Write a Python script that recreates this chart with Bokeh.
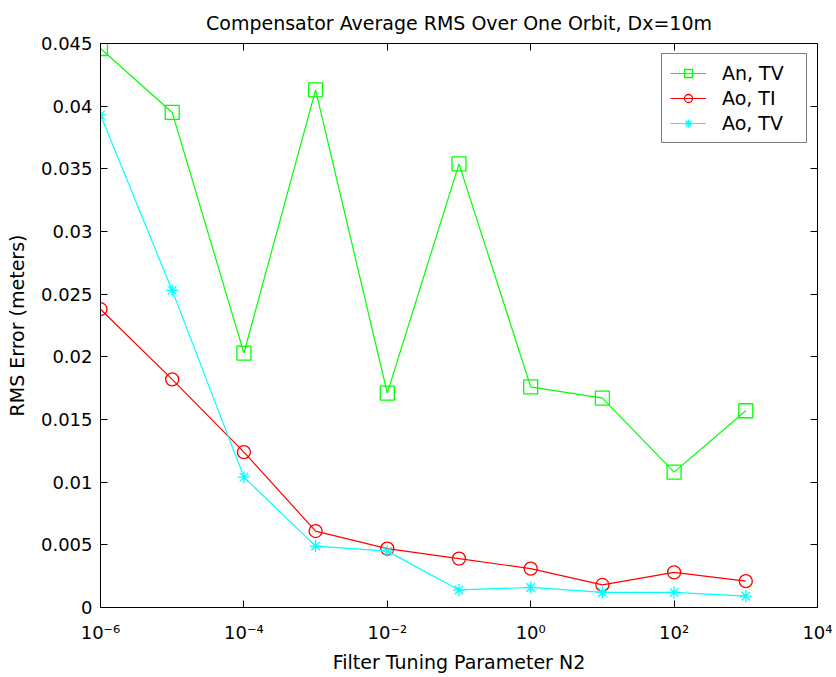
from bokeh.plotting import figure
from bokeh.models import (LinearAxis, LogAxis, FixedTicker, Legend, LegendItem, Range1d)
from bokeh.embed import file_html
from bokeh.resources import INLINE

N2 = [1e-6, 1e-5, 1e-4, 1e-3, 1e-2, 1e-1, 1e0, 1e1, 1e2, 1e3]
an_tv = [0.0446, 0.0395, 0.0203, 0.0413, 0.0171, 0.0354, 0.0176, 0.0167, 0.0108, 0.0157]
ao_ti = [0.0238, 0.0182, 0.0124, 0.0061, 0.0047, 0.0039, 0.0031, 0.0018, 0.0028, 0.0021]
ao_tv = [0.0393, 0.0253, 0.0104, 0.0049, 0.0045, 0.0014, 0.0016, 0.0012, 0.0012, 0.0009]

x_ticks = [1e-6, 1e-4, 1e-2, 1e0, 1e2, 1e4]
x_tick_labels = ["10\u207b\u2076", "10\u207b\u2074", "10\u207b\u00b2", "10\u2070", "10\u00b2", "10\u2074"]
y_ticks = [0, 0.005, 0.01, 0.015, 0.02, 0.025, 0.03, 0.035, 0.04, 0.045]
y_tick_labels = ["0", "0.005", "0.01", "0.015", "0.02", "0.025", "0.03", "0.035", "0.04", "0.045"]

FONT = "DejaVu Sans"
FS_TICK = "18px"
FS_LABEL = "19px"

p = figure(x_axis_type="log", x_range=Range1d(1e-6, 1e4), y_range=Range1d(0, 0.045),
           frame_width=717, frame_height=564,
           min_border_left=100, min_border_right=15, min_border_top=42, min_border_bottom=60,
           output_backend="svg", toolbar_location=None,
           title="Compensator Average RMS Over One Orbit, Dx=10m")
p.title.align = "center"
p.title.text_font = FONT
p.title.text_font_size = FS_LABEL
p.title.text_font_style = "normal"
p.title.text_color = "black"
p.title.standoff = 19
p.grid.visible = False
p.outline_line_color = "black"
p.background_fill_color = "white"
p.border_fill_color = "white"

def style_axis(ax, labels=True):
    ax.axis_line_color = "black"
    ax.major_tick_line_color = "black"
    ax.major_tick_in = 7
    ax.major_tick_out = 0
    ax.minor_tick_line_color = None
    ax.major_label_text_font = FONT
    ax.major_label_text_font_size = FS_TICK
    ax.major_label_text_color = "black"
    if not labels:
        ax.major_label_text_color = None
        ax.major_label_text_font_size = "2px"
        ax.major_label_standoff = 0
    ax.axis_label_text_font = FONT
    ax.axis_label_text_font_size = FS_LABEL
    ax.axis_label_text_font_style = "normal"
    ax.axis_label_text_color = "black"

xa = p.xaxis[0]
xa.ticker = FixedTicker(ticks=x_ticks, minor_ticks=[])
xa.major_label_overrides = {t: l for t, l in zip(x_ticks, x_tick_labels)}
xa.axis_label = "Filter Tuning Parameter N2"
style_axis(xa)
xa.major_label_standoff = 14
xa.axis_label_standoff = 5
ya = p.yaxis[0]
ya.ticker = FixedTicker(ticks=y_ticks, minor_ticks=[])
ya.major_label_overrides = {t: l for t, l in zip(y_ticks, y_tick_labels)}
ya.axis_label = "RMS Error (meters)"
style_axis(ya)
ya.major_label_standoff = 8
ya.axis_label_standoff = 10

top = LogAxis(ticker=FixedTicker(ticks=x_ticks, minor_ticks=[]))
style_axis(top, labels=False)
p.add_layout(top, "above")
right = LinearAxis(ticker=FixedTicker(ticks=y_ticks, minor_ticks=[]))
style_axis(right, labels=False)
p.add_layout(right, "right")

items = []
for name, ys, color, marker, size in [("An, TV", an_tv, "#00ff00", "square", 14),
                                       ("Ao, TI", ao_ti, "#ff0000", "circle", 13),
                                       ("Ao, TV", ao_tv, "#00ffff", "asterisk", 12)]:
    l = p.line(N2, ys, line_color=color, line_width=1.2)
    s = p.scatter(N2, ys, marker=marker, size=size, fill_color=None, line_color=color, line_width=1.3)
    items.append(LegendItem(label=name, renderers=[l, s]))

legend = Legend(items=items, location="top_right")
legend.border_line_color = "black"
legend.border_line_width = 1.3
legend.background_fill_color = "white"
legend.background_fill_alpha = 1
legend.label_text_font = FONT
legend.label_text_font_size = FS_LABEL
legend.label_text_color = "black"
legend.glyph_width = 36
legend.label_height = 22
legend.label_width = 76
legend.label_standoff = 16
legend.spacing = 3
legend.padding = 8
legend.margin = 10
p.add_layout(legend)

open("out.html", "w").write(file_html(p, INLINE))
